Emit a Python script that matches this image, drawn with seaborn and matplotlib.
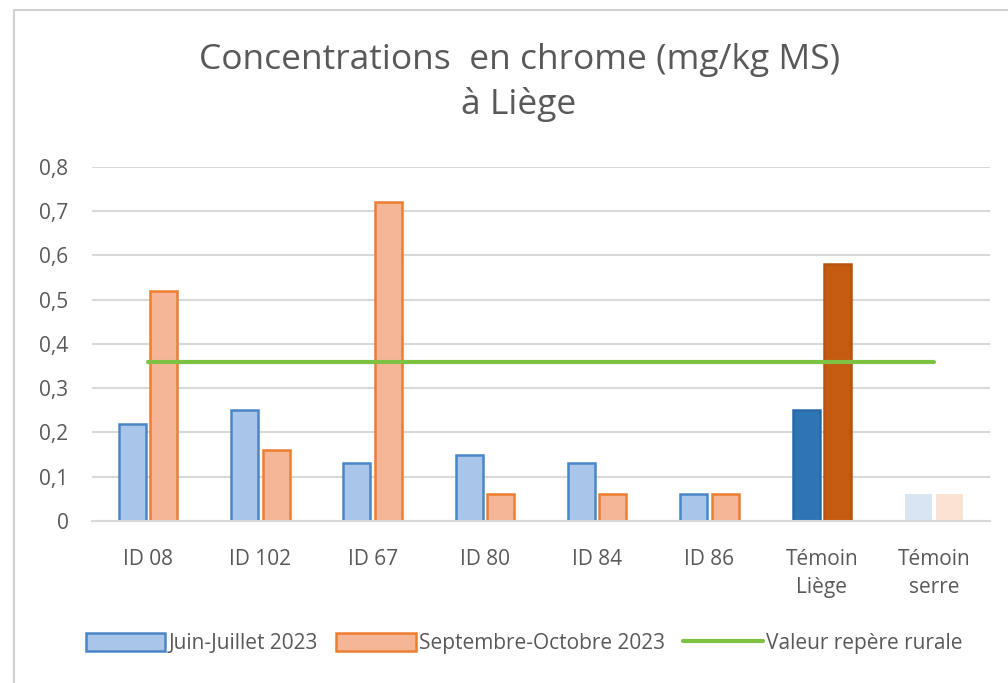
import matplotlib
matplotlib.use("Agg")
import matplotlib.pyplot as plt
import seaborn as sns
import pandas as pd
from matplotlib.patches import Rectangle, Patch
from matplotlib.lines import Line2D

categories = ["ID 08", "ID 102", "ID 67", "ID 80", "ID 84", "ID 86", "Témoin\nLiège", "Témoin\nserre"]
juin_juillet = [0.22, 0.25, 0.13, 0.15, 0.13, 0.06, 0.25, 0.06]
sept_oct = [0.52, 0.16, 0.72, 0.06, 0.06, 0.06, 0.58, 0.06]
valeur_repere = [0.36] * 8
series_names = ["Juin-Juillet 2023", "Septembre-Octobre 2023", "Valeur repère rurale"]
yticks = [0, 0.1, 0.2, 0.3, 0.4, 0.5, 0.6, 0.7, 0.8]
ytick_labels = ["0", "0,1", "0,2", "0,3", "0,4", "0,5", "0,6", "0,7", "0,8"]

sns.set_theme(style="white")
plt.rcParams["font.family"] = ["Open Sans", "DejaVu Sans"]
grey = "#595959"

df = pd.DataFrame({
    "cat": categories * 2,
    "val": juin_juillet + sept_oct,
    "serie": [series_names[0]] * 8 + [series_names[1]] * 8,
})

fig = plt.figure(figsize=(10.08, 6.83), dpi=100)
ax = fig.add_axes([0.0913, 0.2372, 0.891, 0.5183])

blue_fill, blue_edge = "#a9c5ea", "#4a86c5"
orange_fill, orange_edge = "#f5b597", "#ed7d31"

sns.barplot(data=df, x="cat", y="val", hue="serie", order=categories,
            hue_order=series_names[:2], palette=[blue_fill, orange_fill],
            width=0.56, gap=0.14, ax=ax, legend=False, errorbar=None)

for i, cont in enumerate(ax.containers):
    for j, bar in enumerate(cont):
        if i == 0:
            bar.set_facecolor(blue_fill); bar.set_edgecolor(blue_edge)
        else:
            bar.set_facecolor(orange_fill); bar.set_edgecolor(orange_edge)
        bar.set_linewidth(1.8)
        if j == 6:
            bar.set_facecolor("#2e75b6" if i == 0 else "#c55a11")
            bar.set_edgecolor("#2a6aa6" if i == 0 else "#b8530f")
        if j == 7:
            bar.set_facecolor("#dae5f3" if i == 0 else "#fbe3d4")
            bar.set_edgecolor("none")

ax.plot(range(len(categories)), valeur_repere, color="#7dc242", lw=3, zorder=3)

ax.set_ylim(0, 0.8)
ax.set_xlim(-0.5, 7.5)
ax.set_yticks(yticks)
ax.set_yticklabels(ytick_labels)
ax.yaxis.grid(True, color="#d9d9d9", lw=1.5)
ax.set_axisbelow(True)
for s in ["top", "right", "left"]:
    ax.spines[s].set_visible(False)
ax.spines["bottom"].set_color("#d9d9d9")
ax.spines["bottom"].set_linewidth(1.5)
ax.tick_params(axis="both", colors=grey, labelsize=15, length=0)
ax.tick_params(axis="y", pad=17)
ax.tick_params(axis="x", pad=20)
for lab in ax.get_xticklabels():
    lab.set_linespacing(1.45)
ax.set_xlabel("")
ax.set_ylabel("")

fig.text(0.515, 0.912, "Concentrations  en chrome (mg/kg MS)", ha="center", va="center",
         fontsize=25.5, color=grey)
fig.text(0.515, 0.873, "à Liège", ha="center", va="top", fontsize=25.5, color=grey)

handles = [Patch(facecolor=blue_fill, edgecolor=blue_edge, lw=1.8),
           Patch(facecolor=orange_fill, edgecolor=orange_edge, lw=1.8),
           Line2D([0], [0], color="#7dc242", lw=3)]
leg = fig.legend(handles, series_names, loc="center", bbox_to_anchor=(0.52, 0.058),
                 ncol=3, frameon=False, fontsize=15, handlelength=3.8, handleheight=1.0,
                 handletextpad=0.15, columnspacing=0.9, labelcolor=grey)

fig.patches.append(Rectangle((14 / 1008, -0.02), 1.0, 1 - 10 / 683 + 0.02,
                             transform=fig.transFigure, fill=False,
                             edgecolor="#d0d0d0", lw=1.5))

fig.savefig("out.png", dpi=100)
